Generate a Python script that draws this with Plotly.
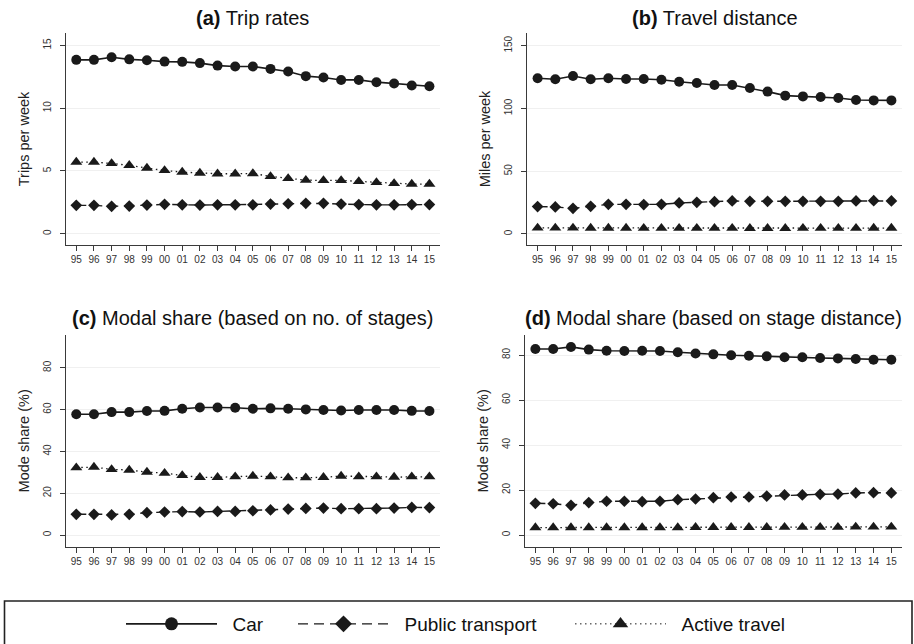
import plotly.graph_objects as go

W, H = 914, 644

years = ["95", "96", "97", "98", "99", "00", "01", "02", "03", "04", "05",
         "06", "07", "08", "09", "10", "11", "12", "13", "14", "15"]

series_names = ["Car", "Public transport", "Active travel"]

# (a) Trip rates (trips per week)
trip_car = [13.86, 13.86, 14.07, 13.90, 13.83, 13.72, 13.70, 13.60, 13.40, 13.33, 13.33,
            13.14, 12.93, 12.56, 12.45, 12.26, 12.26, 12.08, 11.97, 11.81, 11.76]
trip_pt = [2.26, 2.26, 2.18, 2.20, 2.28, 2.34, 2.30, 2.28, 2.30, 2.30, 2.30,
           2.36, 2.39, 2.42, 2.42, 2.36, 2.32, 2.30, 2.30, 2.32, 2.32]
trip_active = [5.71, 5.71, 5.60, 5.45, 5.23, 5.04, 4.91, 4.83, 4.78, 4.78, 4.80,
               4.57, 4.41, 4.27, 4.25, 4.25, 4.17, 4.09, 4.01, 3.96, 3.96]

# (b) Travel distance (miles per week)
dist_car = [124.0, 123.2, 125.8, 123.2, 124.0, 123.4, 123.4, 122.9, 121.3, 120.3, 118.7,
            118.7, 116.3, 113.4, 110.2, 109.6, 109.1, 108.3, 106.7, 106.4, 106.4]
dist_pt = [21.8, 21.5, 20.4, 22.0, 23.6, 23.6, 23.4, 23.6, 24.7, 25.2, 25.7,
           26.3, 26.0, 26.0, 26.0, 26.0, 26.0, 26.0, 26.3, 26.5, 26.3]
dist_active = [4.8, 4.8, 4.8, 4.7, 4.7, 4.7, 4.6, 4.6, 4.6, 4.6, 4.6,
               4.6, 4.5, 4.5, 4.5, 4.6, 4.6, 4.6, 4.6, 4.7, 4.7]

# (c) Modal share based on no. of stages (%)
stage_car = [57.8, 57.8, 58.8, 58.8, 59.3, 59.4, 60.4, 61.0, 61.0, 60.9, 60.4,
             60.6, 60.4, 60.1, 59.8, 59.6, 59.8, 59.8, 59.8, 59.4, 59.3]
stage_pt = [9.9, 9.9, 9.6, 9.9, 10.7, 11.0, 11.2, 11.0, 11.3, 11.3, 11.6,
            12.0, 12.4, 12.7, 12.9, 12.6, 12.6, 12.6, 12.9, 13.2, 13.1]
stage_active = [32.2, 32.5, 31.4, 31.1, 30.1, 29.6, 28.5, 27.6, 27.6, 27.9, 28.2,
                27.9, 27.4, 27.4, 27.6, 28.2, 27.9, 27.9, 27.7, 27.9, 27.9]

# (d) Modal share based on stage distance (%)
sdist_car = [82.7, 82.7, 83.6, 82.4, 81.9, 81.8, 81.9, 81.8, 81.2, 80.7, 80.3,
             79.9, 79.7, 79.4, 79.0, 79.0, 78.7, 78.5, 78.2, 77.9, 77.9]
sdist_pt = [14.1, 13.9, 13.2, 14.4, 15.0, 15.0, 14.8, 15.0, 15.7, 16.0, 16.6,
            16.9, 16.9, 17.3, 17.8, 17.8, 18.1, 18.2, 18.7, 18.8, 18.7]
sdist_active = [3.3, 3.3, 3.3, 3.3, 3.3, 3.3, 3.3, 3.3, 3.3, 3.4, 3.4,
                3.4, 3.4, 3.4, 3.5, 3.5, 3.5, 3.5, 3.6, 3.6, 3.6]

panel_titles = ["<b>(a)</b> Trip rates", "<b>(b)</b> Travel distance",
                "<b>(c)</b> Modal share (based on no. of stages)",
                "<b>(d)</b> Modal share (based on stage distance)"]
y_titles = ["Trips per week", "Miles per week", "Mode share (%)", "Mode share (%)"]
y_ticks = [[0, 5, 10, 15], [0, 50, 100, 150], [0, 20, 40, 60, 80], [0, 20, 40, 60, 80]]
y_ranges = [[-0.9, 16.0], [-8.8, 160.1], [-5.6, 95.7], [-5.2, 88.9]]

panels = [
    (trip_car, trip_pt, trip_active),
    (dist_car, dist_pt, dist_active),
    (stage_car, stage_pt, stage_active),
    (sdist_car, sdist_pt, sdist_active),
]

# layout geometry (pixels)
x_doms_px = [(65.7, 440), (527, 902), (65.7, 440), (524.7, 902)]
y_doms_px = [(33, 245), (33, 245), (335, 546.7), (335, 546.7)]
title_y_px = [18, 18, 318, 318]

INK = "#1a1a1a"
AXC = "#3a3a3a"
FONT = "Liberation Sans, Arial, Helvetica, sans-serif"

styles = [
    dict(symbol="circle", size=10, dash="solid", width=1.6),
    dict(symbol="diamond", size=9, dash="10px,6px", width=1.4),
    dict(symbol="triangle-up", size=10.5, dash="1.5px,3.5px", width=1.3),
]

fig = go.Figure()

for i, data in enumerate(panels):
    sfx = "" if i == 0 else str(i + 1)
    for j, vals in enumerate(data):
        st = styles[j]
        fig.add_trace(go.Scatter(
            x=years, y=vals, mode="lines+markers", name=series_names[j],
            xaxis="x" + sfx, yaxis="y" + sfx, showlegend=False,
            line=dict(color=INK, width=st["width"], dash=st["dash"]),
            marker=dict(symbol=st["symbol"], size=st["size"], color=INK,
                        line=dict(width=0)),
        ))

# legend-only entries (one legend each, to space them like the original)
leg_sizes = [13, 13, 13.5]
for j, name in enumerate(series_names):
    st = styles[j]
    fig.add_trace(go.Scatter(
        x=[None], y=[None], mode="lines+markers", name="\u00a0\u00a0" + name,
        legend="legend" if j == 0 else "legend" + str(j + 1),
        line=dict(color=INK, width=st["width"] if j != 2 else 1.0, dash=st["dash"]),
        marker=dict(symbol=st["symbol"], size=leg_sizes[j], color=INK, line=dict(width=0)),
        showlegend=True,
    ))

layout = dict(
    width=W, height=H,
    margin=dict(l=0, r=0, t=0, b=0),
    paper_bgcolor="white", plot_bgcolor="white",
    font=dict(family=FONT, color="#222"),
    annotations=[],
    shapes=[],
)

for i in range(4):
    sfx = "" if i == 0 else str(i + 1)
    x0, x1 = x_doms_px[i]
    yt, yb = y_doms_px[i]
    layout["xaxis" + sfx] = dict(
        domain=[x0 / W, x1 / W], anchor="y" + sfx, type="category",
        categoryorder="array", categoryarray=years,
        range=[-0.6, 20.6], showline=True, linecolor=AXC, linewidth=1.3,
        ticks="outside", ticklen=5, tickwidth=1.1, tickcolor=AXC, tickangle=0,
        tickfont=dict(size=10, color="#333"), showgrid=False, zeroline=False,
        fixedrange=True,
    )
    layout["yaxis" + sfx] = dict(
        domain=[1 - yb / H, 1 - yt / H], anchor="x" + sfx,
        range=y_ranges[i], tickvals=y_ticks[i], tickangle=-90,
        showline=True, linecolor=AXC, linewidth=1.3,
        ticks="outside", ticklen=5, tickwidth=1.1, tickcolor=AXC,
        tickfont=dict(size=10, color="#333"), ticklabelstandoff=5,
        showgrid=True, gridcolor="#f0f0f0", gridwidth=1, zeroline=False,
        title=dict(text=y_titles[i], font=dict(size=14.5, color="#222"), standoff=8),
        fixedrange=True,
    )
    layout["annotations"].append(dict(
        text=panel_titles[i], xref="paper", yref="paper",
        x=(x0 + x1) / 2 / W, y=1 - title_y_px[i] / H,
        xanchor="center", yanchor="middle", showarrow=False,
        font=dict(size=20, color="#111", family=FONT),
    ))

# legend frame
layout["shapes"].append(dict(
    type="rect", xref="paper", yref="paper",
    x0=4.5 / W, x1=912 / W, y0=-0.02, y1=1 - 601 / H,
    line=dict(color="#222", width=1.6), fillcolor="rgba(0,0,0,0)",
))

leg_x_px = [127, 299, 576]
for j in range(3):
    key = "legend" if j == 0 else "legend" + str(j + 1)
    layout[key] = dict(
        x=(leg_x_px[j] - 6) / W, xanchor="left", y=1 - 624 / H, yanchor="middle",
        orientation="h", bgcolor="rgba(0,0,0,0)", borderwidth=0,
        itemwidth=91, font=dict(size=19, color="#111", family=FONT),
        itemclick=False, itemdoubleclick=False,
    )

fig.update_layout(**layout)
fig.write_html("out.html")
